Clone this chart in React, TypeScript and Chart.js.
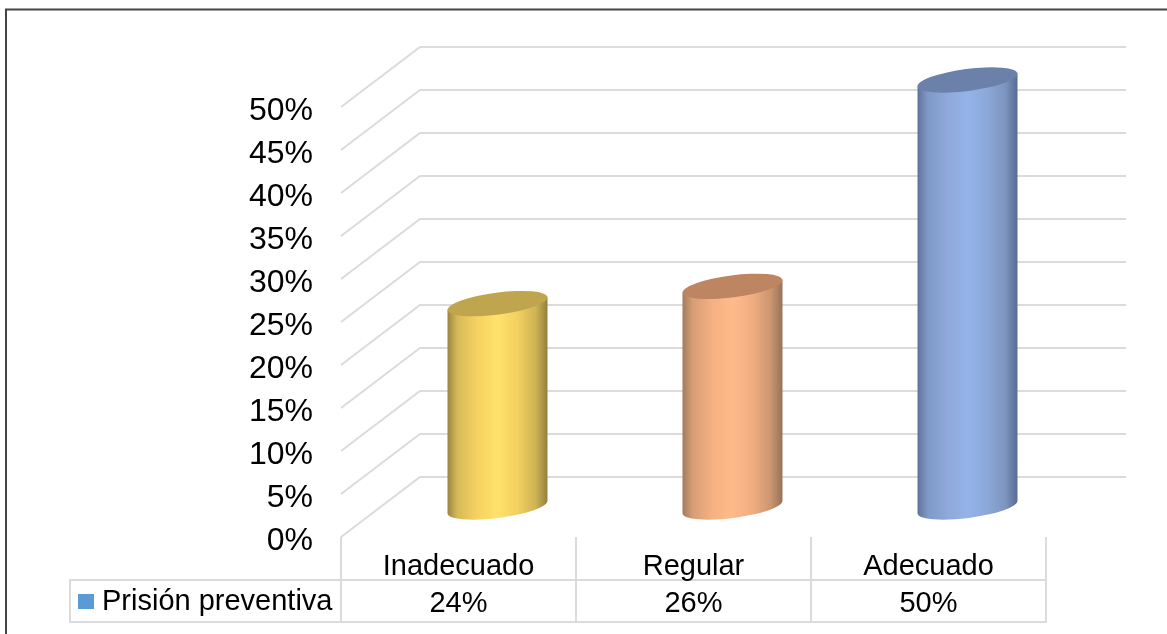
import React, { useEffect, useRef } from "react";
import { Chart, registerables } from "chart.js";

Chart.register(...registerables);

const categories = ["Inadecuado", "Regular", "Adecuado"];
const seriesName = "Prisión preventiva";
const values = [24, 26, 50];
const barColors = ["#ffe26b", "#ffba8a", "#95b3e8"];
const topColors = ["#bfa64e", "#bd8562", "#6b81aa"];
const gradientStops = [
  ["#9a853f", "#d6ba58", "#f6d261", "#ffe26b", "#f3d060", "#cfb355", "#92803c"],
  ["#a27a5c", "#d79d75", "#f5b182", "#ffba8a", "#f0ae80", "#cb9670", "#96735a"],
  ["#5f7399", "#7f98c6", "#8ea9da", "#95b3e8", "#8ca8d9", "#7d94bf", "#586b91"],
];
const stopOffsets = [0, 0.1, 0.3, 0.5, 0.7, 0.88, 1];

const FONT = '29px "Liberation Sans", Arial, sans-serif';
const GRID = "#dbdbdb";
const DEPTH_X = 79;
const DEPTH_Y = 60;
const TOP_DEPTH_Y = 54;
const TABLE_LEFT = 70;
const ROW_TOP = 580;
const ROW_BOTTOM = 622;

const wallPlugin = {
  id: "wall3d",
  beforeDraw(chart: any) {
    const { ctx, chartArea, scales } = chart;
    ctx.save();
    ctx.strokeStyle = "#444444";
    ctx.lineWidth = 2;
    ctx.beginPath();
    ctx.moveTo(1170, 9.5);
    ctx.lineTo(6, 9.5);
    ctx.lineTo(6, 640);
    ctx.stroke();

    ctx.strokeStyle = GRID;
    ctx.lineWidth = 2;
    for (const tick of scales.y.ticks) {
      const y = scales.y.getPixelForValue(tick.value);
      ctx.beginPath();
      ctx.moveTo(chartArea.left, y);
      ctx.lineTo(chartArea.left + DEPTH_X, y - DEPTH_Y);
      ctx.lineTo(chartArea.right + DEPTH_X + 1, y - DEPTH_Y);
      ctx.stroke();
    }

    // data table lines
    const n = categories.length;
    const cell = (chartArea.right - chartArea.left) / n;
    ctx.beginPath();
    ctx.rect(TABLE_LEFT, ROW_TOP, chartArea.right - TABLE_LEFT, ROW_BOTTOM - ROW_TOP);
    for (let i = 0; i <= n; i++) {
      const x = chartArea.left + i * cell;
      ctx.moveTo(x, chartArea.bottom);
      ctx.lineTo(x, ROW_BOTTOM);
    }
    ctx.stroke();

    // data table text
    ctx.fillStyle = "#000000";
    ctx.font = FONT;
    ctx.textBaseline = "middle";
    ctx.textAlign = "center";
    values.forEach((v, i) => {
      ctx.fillText(`${v}%`, chartArea.left + (i + 0.5) * cell, 604);
    });
    ctx.textAlign = "left";
    ctx.fillText(seriesName, 102, 602);
    ctx.fillStyle = "#5b9bd5";
    ctx.fillRect(78, 594, 16, 15);
    ctx.restore();
  },
  beforeDatasetDraw(chart: any) {
    const { ctx, scales } = chart;
    const meta = chart.getDatasetMeta(0);
    const tilt = -0.129;
    const minor = 11;
    meta.data.forEach((bar: any, i: number) => {
      const cx = bar.x + DEPTH_X / 2 - 0.5;
      const half = bar.width / 2;
      const topY = bar.y - TOP_DEPTH_Y / 2;
      const baseY = scales.y.getPixelForValue(0) - DEPTH_Y / 2;
      const major = half + 0.4;
      const dy = half * Math.sin(-tilt);
      ctx.save();
      const g = ctx.createLinearGradient(cx - half, 0, cx + half, 0);
      gradientStops[i].forEach((c, k) => g.addColorStop(stopOffsets[k], c));
      ctx.fillStyle = g;
      ctx.beginPath();
      ctx.moveTo(cx - half, topY + dy);
      ctx.lineTo(cx - half, baseY + dy);
      ctx.ellipse(cx, baseY, major, minor, tilt, Math.PI, 0, true);
      ctx.lineTo(cx + half, topY - dy);
      ctx.closePath();
      ctx.fill();
      ctx.fillStyle = topColors[i];
      ctx.beginPath();
      ctx.ellipse(cx, topY, major, minor, tilt, 0, Math.PI * 2);
      ctx.fill();
      ctx.restore();
    });
    return false;
  },
};

export default function App() {
  const ref = useRef<HTMLCanvasElement>(null);
  useEffect(() => {
    const chart = new Chart(ref.current as HTMLCanvasElement, {
      type: "bar",
      data: {
        labels: categories,
        datasets: [
          {
            label: seriesName,
            data: values,
            backgroundColor: barColors,
            barPercentage: 100 / 235,
            categoryPercentage: 1,
          },
        ],
      },
      options: {
        responsive: false,
        animation: false,
        layout: { padding: { top: 107, right: 121, left: 0, bottom: 0 } },
        plugins: { legend: { display: false }, tooltip: { enabled: false } },
        scales: {
          y: {
            min: 0,
            max: 50,
            border: { display: false },
            grid: { display: false },
            afterFit: (s: any) => {
              s.width = 341;
            },
            ticks: {
              stepSize: 5,
              padding: 20,
              labelOffset: 4,
              color: "#000000",
              font: { family: '"Liberation Sans", Arial, sans-serif', size: 32 },
              callback: (v: any) => `${v}%`,
            },
          },
          x: {
            border: { display: false },
            grid: { display: false },
            afterFit: (s: any) => {
              s.height = 97;
            },
            ticks: {
              padding: 5,
              color: "#000000",
              maxRotation: 0,
              font: { family: '"Liberation Sans", Arial, sans-serif', size: 29 },
            },
          },
        },
      },
      plugins: [wallPlugin],
    } as any);
    return () => chart.destroy();
  }, []);
  return (
    <div style={{ position: "absolute", left: 0, top: 0, width: 1167, height: 634, background: "#fff", overflow: "hidden" }}>
      <canvas ref={ref} width={1167} height={634} style={{ display: "block" }} />
    </div>
  );
}
